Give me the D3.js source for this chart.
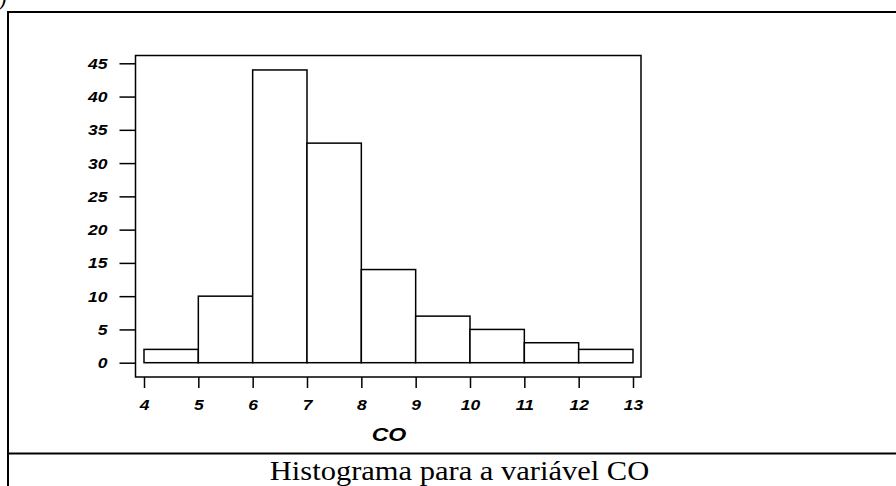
<!DOCTYPE html>
<html><head><meta charset="utf-8">
<script src="https://cdn.jsdelivr.net/npm/d3@7"></script>
<style>
html,body{margin:0;padding:0;background:#fff;}
svg{display:block;}
</style></head>
<body>
<svg id="c" width="896" height="486"></svg>
<script>
const binEdges = [4,5,6,7,8,9,10,11,12,13];
const counts = [2,10,44,33,14,7,5,3,2];
const yTicks = [0,5,10,15,20,25,30,35,40,45];
const xTicks = [4,5,6,7,8,9,10,11,12,13];
const xLabel = "CO";
const caption = "Histograma para a variável CO";

const svg = d3.select("#c");
const x = d3.scaleLinear().domain([4,13]).range([144,633]);
const y = d3.scaleLinear().domain([0,45]).range([362.7,63.3]);
const SX = 1.25;
const font = "Arial, 'Liberation Sans', sans-serif";

// outer frame
svg.append("text").attr("x",-1).attr("y",6).attr("font-family","'Liberation Serif', serif")
  .attr("font-size",22).attr("font-style","italic").text(")");
svg.append("line").attr("x1",7).attr("x2",896).attr("y1",12).attr("y2",12).attr("stroke","#000").attr("stroke-width",2);
svg.append("line").attr("x1",8).attr("x2",8).attr("y1",11).attr("y2",486).attr("stroke","#000").attr("stroke-width",2);
svg.append("line").attr("x1",7).attr("x2",896).attr("y1",453.5).attr("y2",453.5).attr("stroke","#000").attr("stroke-width",2.2);

// plot box
svg.append("rect").attr("x",135.5).attr("y",55.5).attr("width",505.5).attr("height",321.5)
  .attr("fill","none").attr("stroke","#000").attr("stroke-width",1.5);

// bars
const bins = counts.map((c,i)=>({x0:binEdges[i],x1:binEdges[i+1],c}));
svg.append("g").selectAll("rect").data(bins).join("rect")
  .attr("x",d=>x(d.x0)).attr("width",d=>x(d.x1)-x(d.x0))
  .attr("y",d=>y(d.c)).attr("height",d=>y(0)-y(d.c))
  .attr("fill","#fff").attr("stroke","#000").attr("stroke-width",1.5);

// y axis
const yAx = svg.append("g").attr("transform","translate(135.5,0)")
  .call(d3.axisLeft(y).tickValues(yTicks).tickSize(16).tickSizeOuter(0));
yAx.select(".domain").remove();
yAx.selectAll(".tick line").attr("stroke","#000").attr("stroke-width",1.5);
yAx.selectAll(".tick text").attr("x",0).attr("dy",null).attr("y",0)
  .attr("transform","translate(-28,5) scale("+SX+",1)")
  .attr("font-family",font).attr("font-size",14).attr("font-weight","bold").attr("font-style","italic").attr("fill","#000");

// x axis
const xAx = svg.append("g").attr("transform","translate(0,377)")
  .call(d3.axisBottom(x).tickValues(xTicks).tickSize(11).tickSizeOuter(0));
xAx.select(".domain").remove();
xAx.selectAll(".tick line").attr("stroke","#000").attr("stroke-width",1.5);
xAx.selectAll(".tick text").attr("y",0).attr("dy",null)
  .attr("transform","translate(0,32.5) scale("+SX+",1)")
  .attr("font-family",font).attr("font-size",14).attr("font-weight","bold").attr("font-style","italic").attr("fill","#000");

// x label
svg.append("text").attr("transform","translate(389,441) scale(1.25,1)")
  .attr("text-anchor","middle").attr("font-family",font).attr("font-size",18.5)
  .attr("font-weight","bold").attr("font-style","italic").text(xLabel);

// caption
svg.append("text").attr("transform","translate(459.5,480) scale(1.13,1)")
  .attr("text-anchor","middle").attr("font-family","'Liberation Serif', 'Times New Roman', serif")
  .attr("font-size",27).text(caption);
</script>
</body></html>
